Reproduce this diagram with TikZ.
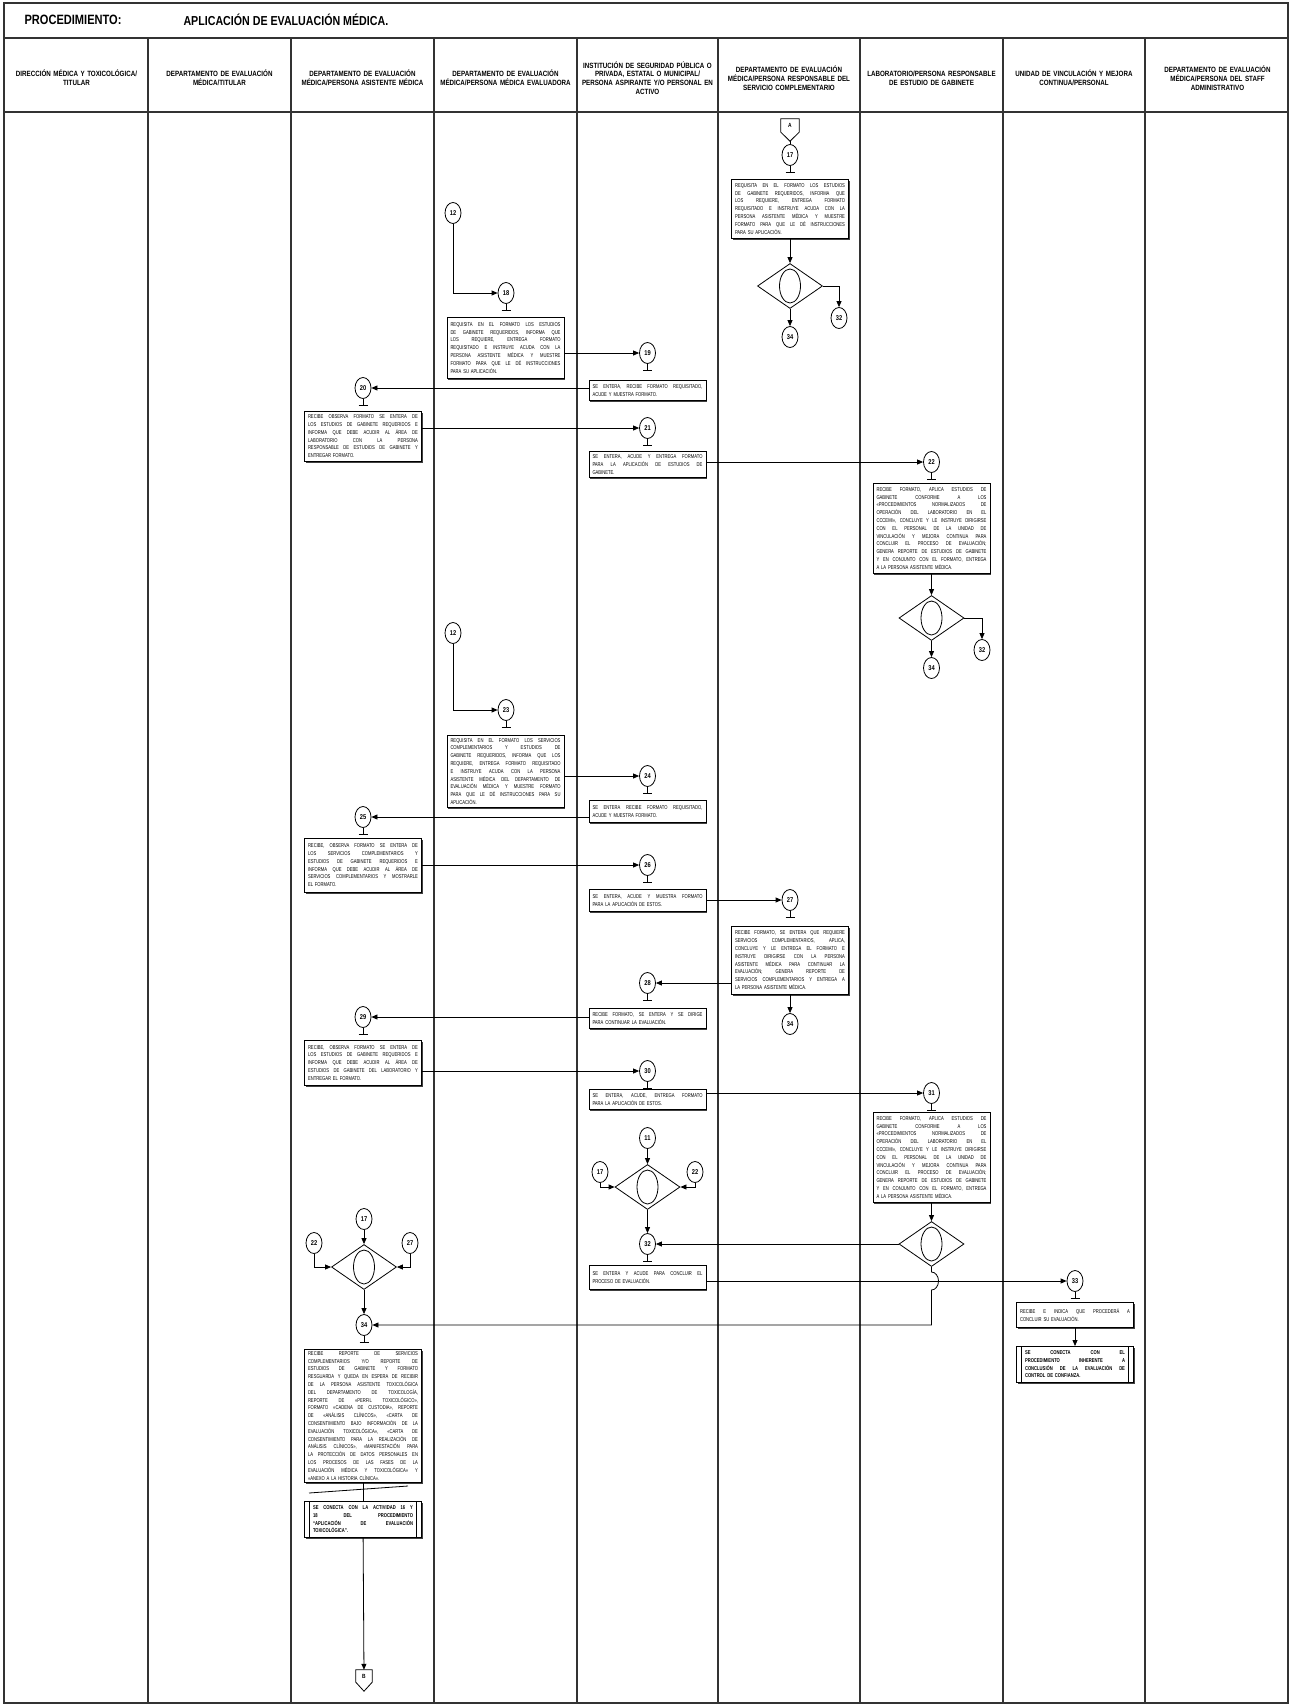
\documentclass[tikz,border=0pt]{standalone}
\usepackage{fontspec}
\setmainfont{Liberation Sans}
\newfontfamily\nsans[FakeStretch=0.82]{Liberation Sans}
\newfontfamily\bsans[FakeStretch=0.74]{Liberation Sans}
\usetikzlibrary{arrows.meta,shapes.geometric,shadows,calc}
\newcommand{\jl}[2][110pt]{\makebox[#1][s]{\spaceskip=0.25em plus 6em minus 0.08em\relax #2}\\}
\tikzset{
 lane/.style={draw=black!80, line width=1.2pt},
 arr/.style={-{Triangle[length=6pt,width=5pt]}, line width=0.8pt},
 ln/.style={line width=0.8pt},
 stemln/.style={line width=0.7pt},
 circ/.style={ellipse, draw, line width=0.8pt, fill=white, minimum width=16pt, minimum height=21pt, inner sep=0pt, font=\nsans\bfseries\fontsize{7}{7}\selectfont},
 dec/.style={diamond, draw, line width=0.8pt, fill=white, minimum width=65pt, minimum height=45pt, inner sep=0pt},
 inell/.style={ellipse, draw, line width=0.8pt, minimum width=21pt, minimum height=34pt, inner sep=0pt},
 tbox/.style={draw=black, line width=0.7pt, fill=white, general shadow={fill=black!75, shadow xshift=1.2pt, shadow yshift=-1.2pt}, anchor=north, minimum width=117pt, text width=110pt, inner xsep=3pt, inner ysep=1.5pt, align=left, font=\bsans\fontsize{5.6}{7.8}\selectfont},
 pbox/.style={tbox, text width=100pt, font=\bsans\bfseries\fontsize{5.6}{7.8}\selectfont},
 hdr/.style={align=center, text width=140pt, font=\nsans\bfseries\fontsize{7.6}{8.7}\selectfont},
 offp/.style={inner sep=0pt, minimum width=18pt, minimum height=13pt, font=\nsans\bfseries\fontsize{6}{7}\selectfont},
}
\newcommand{\tee}[1]{\draw[stemln] (#1.south) -- ++(0,6) ++(-4.5,0) -- ++(9,0);}
\begin{document}
\begin{tikzpicture}[x=1pt,y=-1pt]
\useasboundingbox (0,0) rectangle (1290,1705);
% frame and lanes
\draw[lane] (4,3) rectangle (1288,1703);
\draw[lane] (4,38) -- (1288,38);
\draw[lane] (4,112) -- (1288,112);
\foreach \x in {148,291,434,577,718,860,1003,1145} \draw[lane] (\x,38) -- (\x,1703);
% title
\node[anchor=west, font=\nsans\bfseries\fontsize{13.5}{15}\selectfont] (t1) at (21,20) {PROCEDIMIENTO:};
\node[anchor=west, font=\nsans\bfseries\fontsize{13}{15}\selectfont] (t2) at (180,20) {APLICACIÓN DE EVALUACIÓN MÉDICA.};
% headers
\node[hdr] (h1) at (76.5,78) {DIRECCIÓN MÉDICA Y TOXICOLÓGICA/\\TITULAR};
\node[hdr] (h2) at (219.5,78) {DEPARTAMENTO DE EVALUACIÓN\\MÉDICA/TITULAR};
\node[hdr] (h3) at (362.5,78) {DEPARTAMENTO DE EVALUACIÓN\\MÉDICA/PERSONA ASISTENTE MÉDICA};
\node[hdr] (h4) at (505.5,78) {DEPARTAMENTO DE EVALUACIÓN\\MÉDICA/PERSONA MÉDICA EVALUADORA};
\node[hdr] (h5) at (647.5,78) {INSTITUCIÓN DE SEGURIDAD PÚBLICA O\\PRIVADA, ESTATAL O MUNICIPAL/\\PERSONA ASPIRANTE Y/O PERSONAL EN\\ACTIVO};
\node[hdr] (h6) at (789,78) {DEPARTAMENTO DE EVALUACIÓN\\MÉDICA/PERSONA RESPONSABLE DEL\\SERVICIO COMPLEMENTARIO};
\node[hdr] (h7) at (931.5,78) {LABORATORIO/PERSONA RESPONSABLE\\DE ESTUDIO DE GABINETE};
\node[hdr] (h8) at (1074,78) {UNIDAD DE VINCULACIÓN Y MEJORA\\CONTINUA/PERSONAL};
\node[hdr] (h9) at (1217.5,78) {DEPARTAMENTO DE EVALUACIÓN\\MÉDICA/PERSONA DEL STAFF\\ADMINISTRATIVO};

% ---------- lane 6 top: A, 17
\node[offp] (A) at (790,125.5) {A};
\draw[ln] (A.north west) -- (A.north east) -- (A.south east) -- ([yshift=-9pt]A.south) -- (A.south west) -- cycle;
\coordinate (Atip) at ([yshift=-9pt]A.south);
\node[circ] (c17a) at (790,155) {17};
\draw[ln] (Atip) -- (c17a);
\tee{c17a}
\node[tbox, minimum height=59pt] (b17) at (790,179) {\jl{REQUISITA EN EL FORMATO  LOS ESTUDIOS}\jl{DE GABINETE REQUERIDOS, INFORMA QUE}\jl{LOS REQUIERE, ENTREGA FORMATO}\jl{REQUISITADO E INSTRUYE ACUDA CON LA}\jl{PERSONA ASISTENTE MÉDICA Y MUESTRE}\jl{FORMATO PARA QUE LE DÉ INSTRUCCIONES}PARA SU APLICACIÓN.};
\node[dec] (d1) at (790,286) {};
\node[inell] (d1e) at (d1) {};
\node[circ] (c32a) at (839,318) {32};
\node[circ] (c34a) at (790,337) {34};
\draw[arr] (b17) -- (d1.north);
\draw[arr] (d1.east) -| (c32a);
\draw[arr] (d1.south) -- (c34a);

% ---------- 12 -> 18
\node[circ] (c12a) at (453,213) {12};
\node[circ] (c18) at (506,293) {18};
\draw[arr] (c12a) |- (c18);
\tee{c18}
\node[tbox, minimum height=61pt] (b18) at (505.5,317) {\jl{REQUISITA EN EL FORMATO  LOS ESTUDIOS}\jl{DE GABINETE REQUERIDOS, INFORMA QUE}\jl{LOS REQUIERE, ENTREGA FORMATO}\jl{REQUISITADO E INSTRUYE ACUDA CON LA}\jl{PERSONA ASISTENTE MÉDICA Y MUESTRE}\jl{FORMATO PARA QUE LE DÉ INSTRUCCIONES}PARA SU APLICACIÓN.};
\node[circ] (c19) at (647.5,353) {19};
\draw[arr] (c19 -| b18.east) -- (c19);
\tee{c19}
\node[tbox, minimum height=20pt] (b19) at (647.5,380) {\jl{SE ENTERA, RECIBE FORMATO  REQUISITADO,}ACUDE Y MUESTRA FORMATO.};
\node[circ] (c20) at (363,388) {20};
\draw[arr] (c20 -| b19.west) -- (c20);
\tee{c20}
\node[tbox, minimum height=50pt] (b20) at (363,411) {\jl{RECIBE OBSERVA FORMATO SE ENTERA DE}\jl{LOS ESTUDIOS DE GABINETE REQUERIDOS E}\jl{INFORMA QUE DEBE ACUDIR AL ÁREA DE}\jl{LABORATORIO CON LA PERSONA}\jl{RESPONSABLE DE ESTUDIOS DE GABINETE Y}ENTREGAR FORMATO.};
\node[circ] (c21) at (647.5,428) {21};
\draw[arr] (c21 -| b20.east) -- (c21);
\tee{c21}
\node[tbox, minimum height=26pt] (b21) at (647.5,451) {\jl{SE ENTERA, ACUDE Y ENTREGA FORMATO}\jl{PARA LA APLICACIÓN DE ESTUDIOS DE}GABINETE.};
\node[circ] (c22) at (931.5,462) {22};
\draw[arr] (c22 -| b21.east) -- (c22);
\tee{c22}
\node[tbox, minimum height=90pt] (b22) at (931.5,483) {\jl{RECIBE FORMATO, APLICA ESTUDIOS DE}\jl{GABINETE CONFORME A LOS}\jl{«PROCEDIMIENTOS NORMALIZADOS DE}\jl{OPERACIÓN DEL LABORATORIO EN EL}\jl{CCCEMI», CONCLUYE Y LE INSTRUYE DIRIGIRSE}\jl{CON EL PERSONAL DE LA UNIDAD DE}\jl{VINCULACIÓN Y MEJORA CONTINUA PARA}\jl{CONCLUIR EL PROCESO DE EVALUACIÓN;}\jl{GENERA REPORTE DE ESTUDIOS DE GABINETE}\jl{Y EN CONJUNTO CON EL FORMATO, ENTREGA}A LA PERSONA ASISTENTE MÉDICA.};
\node[dec] (d2) at (931.5,618) {};
\node[inell] (d2e) at (d2) {};
\node[circ] (c32b) at (982,650) {32};
\node[circ] (c34b) at (931.5,668) {34};
\draw[arr] (b22) -- (d2.north);
\draw[arr] (d2.east) -| (c32b);
\draw[arr] (d2.south) -- (c34b);

% ---------- 12 -> 23
\node[circ] (c12b) at (453,633) {12};
\node[circ] (c23) at (506,710) {23};
\draw[arr] (c12b) |- (c23);
\tee{c23}
\node[tbox, minimum height=72pt] (b23) at (505.5,735) {\jl{REQUISITA EN EL FORMATO LOS SERVICIOS}\jl{COMPLEMENTARIOS Y ESTUDIOS DE}\jl{GABINETE REQUERIDOS, INFORMA QUE LOS}\jl{REQUIERE, ENTREGA FORMATO REQUISITADO}\jl{E INSTRUYE ACUDA CON LA PERSONA}\jl{ASISTENTE MÉDICA DEL DEPARTAMENTO DE}\jl{EVALUACIÓN MÉDICA Y MUESTRE FORMATO}\jl{PARA QUE LE DÉ INSTRUCCIONES PARA SU}APLICACIÓN.};
\node[circ] (c24) at (647.5,776) {24};
\draw[arr] (c24 -| b23.east) -- (c24);
\tee{c24}
\node[tbox, minimum height=22pt] (b24) at (647.5,800) {\jl{SE ENTERA RECIBE FORMATO REQUISITADO,}ACUDE Y MUESTRA FORMATO.};
\node[circ] (c25) at (363,817) {25};
\draw[arr] (c25 -| b24.west) -- (c25);
\tee{c25}
\node[tbox, minimum height=54pt] (b25) at (363,838) {\jl{RECIBE, OBSERVA FORMATO SE ENTERA DE}\jl{LOS SERVICIOS COMPLEMENTARIOS Y}\jl{ESTUDIOS DE GABINETE REQUERIDOS E}\jl{INFORMA QUE DEBE ACUDIR AL ÁREA DE}\jl{SERVICIOS COMPLEMENTARIOS Y MOSTRARLE}EL FORMATO.};
\node[circ] (c26) at (647.5,865) {26};
\draw[arr] (c26 -| b25.east) -- (c26);
\tee{c26}
\node[tbox, minimum height=22pt] (b26) at (647.5,889) {\jl{SE ENTERA, ACUDE Y MUESTRA FORMATO}PARA LA APLICACIÓN DE ESTOS.};
\node[circ] (c27) at (790,900) {27};
\draw[arr] (c27 -| b26.east) -- (c27);
\tee{c27}
\node[tbox, minimum height=68pt] (b27) at (790,926) {\jl{RECIBE FORMATO, SE ENTERA QUE REQUIERE}\jl{SERVICIOS COMPLEMENTARIOS, APLICA,}\jl{CONCLUYE Y LE ENTREGA EL FORMATO E}\jl{INSTRUYE DIRIGIRSE CON LA PERSONA}\jl{ASISTENTE MÉDICA PARA CONTINUAR LA}\jl{EVALUACIÓN; GENERA REPORTE DE}\jl{SERVICIOS COMPLEMENTARIOS Y ENTREGA A}LA PERSONA ASISTENTE MÉDICA.};
\node[circ] (c34c) at (790,1024) {34};
\draw[arr] (b27) -- (c34c);
\node[circ] (c28) at (647.5,983) {28};
\draw[arr] (c28 -| b27.west) -- (c28);
\tee{c28}
\node[tbox, minimum height=20pt] (b28) at (647.5,1008) {\jl{RECIBE FORMATO, SE ENTERA Y SE DIRIGE}PARA CONTINUAR LA EVALUACIÓN.};
\node[circ] (c29) at (363,1017) {29};
\draw[arr] (c29 -| b28.west) -- (c29);
\tee{c29}
\node[tbox, minimum height=45pt] (b29) at (363,1040) {\jl{RECIBE, OBSERVA FORMATO SE ENTERA DE}\jl{LOS ESTUDIOS DE GABINETE REQUERIDOS E}\jl{INFORMA QUE DEBE ACUDIR AL ÁREA DE}\jl{ESTUDIOS DE GABINETE DEL LABORATORIO Y}ENTREGAR EL FORMATO.};
\node[circ] (c30) at (647.5,1071) {30};
\draw[arr] (c30 -| b29.east) -- (c30);
\tee{c30}
\node[tbox, minimum height=20pt] (b30) at (647.5,1089) {\jl{SE ENTERA, ACUDE, ENTREGA FORMATO}PARA LA APLICACIÓN DE ESTOS.};
\node[circ] (c31) at (931.5,1093) {31};
\draw[arr] (c31 -| b30.east) -- (c31);
\tee{c31}
\node[tbox, minimum height=90pt] (b31) at (931.5,1112) {\jl{RECIBE FORMATO, APLICA ESTUDIOS DE}\jl{GABINETE CONFORME A LOS}\jl{«PROCEDIMIENTOS NORMALIZADOS DE}\jl{OPERACIÓN DEL LABORATORIO EN EL}\jl{CCCEMI», CONCLUYE Y LE INSTRUYE DIRIGIRSE}\jl{CON EL PERSONAL DE LA UNIDAD DE}\jl{VINCULACIÓN Y MEJORA CONTINUA PARA}\jl{CONCLUIR EL PROCESO DE EVALUACIÓN;}\jl{GENERA REPORTE DE ESTUDIOS DE GABINETE}\jl{Y EN CONJUNTO CON EL FORMATO, ENTREGA}A LA PERSONA ASISTENTE MÉDICA.};
\node[dec] (d3) at (931.5,1244) {};
\node[inell] (d3e) at (d3) {};
\draw[arr] (b31) -- (d3.north);

% ---------- lane 5 merge
\node[circ] (c11) at (647.5,1138) {11};
\node[circ] (c17b) at (600,1172) {17};
\node[circ] (c22b) at (695,1172) {22};
\node[dec] (d4) at (647.5,1187) {};
\node[inell] (d4e) at (d4) {};
\draw[arr] (c11) -- (d4.north);
\draw[arr] (c17b) |- (d4.west);
\draw[arr] (c22b) |- (d4.east);
\node[circ] (c32c) at (647.5,1244) {32};
\draw[arr] (d4.south) -- (c32c);
\draw[arr] (d3.west) -- (c32c);
\tee{c32c}
\node[tbox, minimum height=24pt] (b32) at (647.5,1265) {\jl{SE ENTERA Y ACUDE PARA CONCLUIR EL}PROCESO DE EVALUACIÓN.};
\node[circ] (c33) at (1075,1281) {33};
\draw[arr] (c33 -| b32.east) -- (c33);
\tee{c33}
\node[tbox, minimum height=25pt] (b33) at (1075,1302) {\jl{RECIBE E INDICA QUE PROCEDERÁ A}CONCLUIR SU EVALUACIÓN.};
\node[pbox, minimum height=36pt] (b33b) at (1075,1346) {\jl[100pt]{SE CONECTA CON EL}\jl[100pt]{PROCEDIMIENTO INHERENTE A}\jl[100pt]{CONCLUSIÓN DE LA EVALUACIÓN DE}CONTROL DE CONFIANZA.};
\draw[ln] ([xshift=5pt]b33b.north west) -- ([xshift=5pt]b33b.south west);
\draw[ln] ([xshift=-5pt]b33b.north east) -- ([xshift=-5pt]b33b.south east);
\draw[arr] (b33) -- (b33b);

% ---------- lane 3 merge
\node[circ] (c17c) at (364,1219) {17};
\node[circ] (c22c) at (314,1243) {22};
\node[circ] (c27c) at (410,1243) {27};
\node[dec] (d5) at (364,1267) {};
\node[inell] (d5e) at (d5) {};
\draw[arr] (c17c) -- (d5.north);
\draw[arr] (c22c) |- (d5.west);
\draw[arr] (c27c) |- (d5.east);
\node[circ] (c34d) at (364,1325) {34};
\draw[arr] (d5.south) -- (c34d);
\draw[arr] (d3.south) -- ($(d3.south |- c33)+(0,-9)$) arc[start angle=90, end angle=-90, x radius=7pt, y radius=9pt] -- (d3.south |- c34d) -- (c34d);
\tee{c34d}
\node[tbox, minimum height=133pt] (b34) at (363,1349) {\jl{RECIBE REPORTE DE SERVICIOS}\jl{COMPLEMENTARIOS Y/O REPORTE DE}\jl{ESTUDIOS DE GABINETE Y FORMATO}\jl{RESGUARDA Y QUEDA EN ESPERA DE RECIBIR}\jl{DE LA PERSONA ASISTENTE TOXICOLÓGICA}\jl{DEL DEPARTAMENTO DE TOXICOLOGÍA,}\jl{REPORTE DE «PERFIL TOXICOLÓGICO»,}\jl{FORMATO «CADENA DE CUSTODIA», REPORTE}\jl{DE «ANÁLISIS CLÍNICOS», «CARTA DE}\jl{CONSENTIMIENTO BAJO INFORMACIÓN DE LA}\jl{EVALUACIÓN TOXICOLÓGICA», «CARTA DE}\jl{CONSENTIMIENTO PARA LA REALIZACIÓN DE}\jl{ANÁLISIS CLÍNICOS», «MANIFESTACIÓN PARA}\jl{LA PROTECCIÓN DE DATOS PERSONALES EN}\jl{LOS PROCESOS DE LAS FASES DE LA}\jl{EVALUACIÓN MÉDICA Y TOXICOLÓGICA» Y}«ANEXO A LA HISTORIA CLÍNICA».};
\node[pbox, minimum height=36pt] (b34b) at (363,1501) {\jl[100pt]{SE CONECTA CON LA ACTIVIDAD 16 Y}\jl[100pt]{18 DEL PROCEDIMIENTO}\jl[100pt]{“APLICACIÓN DE EVALUACIÓN}TOXICOLÓGICA”.};
\draw[ln] ([xshift=5pt]b34b.north west) -- ([xshift=5pt]b34b.south west);
\draw[ln] ([xshift=-5pt]b34b.north east) -- ([xshift=-5pt]b34b.south east);
\draw[ln] (b34) -- (b34b);
\coordinate (sl1) at (309,1493);
\coordinate (sl2) at (408,1486);
\draw[ln] (sl1) -- (sl2);
\node[offp, minimum width=16pt, minimum height=12pt] (B) at (364,1676) {B};
\draw[ln] (B.north west) -- (B.north east) -- (B.south east) -- ([yshift=-9pt]B.south) -- (B.south west) -- cycle;
\draw[arr] (b34b) -- (B);
\end{tikzpicture}
\end{document}
